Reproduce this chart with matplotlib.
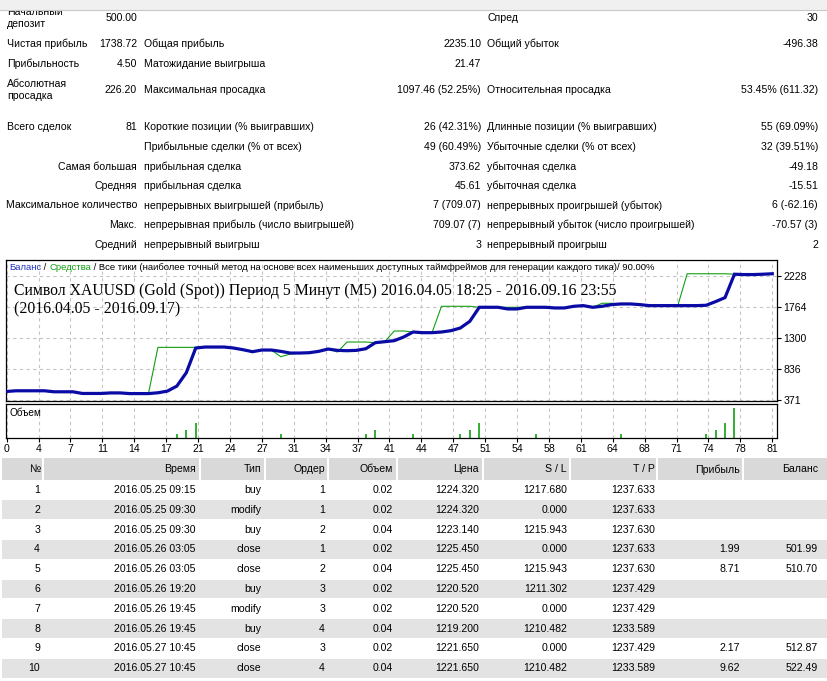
import numpy as np
import matplotlib
matplotlib.use("Agg")
import matplotlib.pyplot as plt
from matplotlib.patches import Rectangle

plt.rcParams['font.family'] = ['Liberation Sans', 'DejaVu Sans']

# --- статистика отчёта
col1_labels = ["Начальный\nдепозит", "Чистая прибыль", "Прибыльность", "Абсолютная\nпросадка",
               "Всего сделок", "", "Самая большая", "Средняя", "Максимальное количество",
               "Макс.", "Средний"]
col1_values = ["500.00", "1738.72", "4.50", "226.20", "81", "", "", "", "", "", ""]
col2_labels = ["", "Общая прибыль", "Матожидание выигрыша", "Максимальная просадка",
               "Короткие позиции (% выигравших)", "Прибыльные сделки (% от всех)",
               "прибыльная сделка", "прибыльная сделка", "непрерывных выигрышей (прибыль)",
               "непрерывная прибыль (число выигрышей)", "непрерывный выигрыш"]
col2_values = ["", "2235.10", "21.47", "1097.46 (52.25%)", "26 (42.31%)", "49 (60.49%)",
               "373.62", "45.61", "7 (709.07)", "709.07 (7)", "3"]
col3_labels = ["Спред", "Общий убыток", "", "Относительная просадка",
               "Длинные позиции (% выигравших)", "Убыточные сделки (% от всех)",
               "убыточная сделка", "убыточная сделка", "непрерывных проигрышей (убыток)",
               "непрерывный убыток (число проигрышей)", "непрерывный проигрыш"]
col3_values = ["30", "-496.38", "", "53.45% (611.32)", "55 (69.09%)", "32 (39.51%)",
               "-49.18", "-15.51", "6 (-62.16)", "-70.57 (3)", "2"]

# --- график баланса / средств (по номеру сделки)
balance = [500, 510, 510, 510, 510, 495, 495, 495, 470, 470, 470, 478, 478, 468, 468, 468,
           480, 505, 580, 780, 1150, 1165, 1165, 1165, 1150, 1125, 1095, 1120, 1120, 1100,
           1075, 1075, 1080, 1100, 1135, 1115, 1110, 1115, 1140, 1230, 1245, 1260, 1315,
           1390, 1380, 1380, 1390, 1410, 1450, 1550, 1760, 1760, 1760, 1735, 1735, 1760,
           1760, 1760, 1750, 1750, 1775, 1785, 1760, 1775, 1800, 1810, 1810, 1800, 1785,
           1785, 1785, 1785, 1785, 1785, 1790, 1845, 1905, 2255, 2250, 2250, 2255, 2262]
equity = [500, 510, 510, 510, 510, 495, 495, 495, 470, 470, 470, 478, 478, 468, 468, 468,
          1160, 1160, 1160, 1160, 1160, 1165, 1165, 1165, 1150, 1125, 1095, 1120, 1120, 1020,
          1060, 1075, 1080, 1100, 1135, 1090, 1240, 1240, 1240, 1230, 1245, 1405, 1405,
          1390, 1380, 1380, 1775, 1775, 1775, 1775, 1760, 1760, 1760, 1760, 1760, 1760,
          1760, 1760, 1750, 1750, 1775, 1785, 1760, 1820, 1820, 1810, 1810, 1800, 1785,
          1785, 1785, 1785, 2262, 2262, 2262, 2262, 2262, 2255, 2250, 2250, 2255, 2262]
vol_idx = [18, 19, 20, 29, 38, 39, 43, 48, 49, 50, 56, 65, 74, 75, 76, 77]
vol_lots = [0.02, 0.04, 0.08, 0.02, 0.02, 0.04, 0.02, 0.02, 0.04, 0.08, 0.02, 0.02, 0.02, 0.04, 0.08, 0.16]
xtick_labels = ["0", "4", "7", "11", "14", "17", "21", "24", "27", "31", "34", "37", "41",
                "44", "47", "51", "54", "58", "61", "64", "68", "71", "74", "78", "81"]
ytick_vals = [371, 836, 1300, 1764, 2228]
title = ("Символ XAUUSD (Gold (Spot)) Период 5 Минут (M5) 2016.04.05 18:25 - 2016.09.16 23:55\n"
         "(2016.04.05 - 2016.09.17)")

# --- таблица сделок
headers = ["№", "Время", "Тип", "Ордер", "Объем", "Цена", "S / L", "T / P", "Прибыль", "Баланс"]
nums = [1, 2, 3, 4, 5, 6, 7, 8, 9, 10]
times = ["2016.05.25 09:15", "2016.05.25 09:30", "2016.05.25 09:30", "2016.05.26 03:05",
         "2016.05.26 03:05", "2016.05.26 19:20", "2016.05.26 19:45", "2016.05.26 19:45",
         "2016.05.27 10:45", "2016.05.27 10:45"]
types = ["buy", "modify", "buy", "close", "close", "buy", "modify", "buy", "close", "close"]
orders = [1, 1, 2, 1, 2, 3, 3, 4, 3, 4]
volumes = [0.02, 0.02, 0.04, 0.02, 0.04, 0.02, 0.02, 0.04, 0.02, 0.04]
prices = [1224.320, 1224.320, 1223.140, 1225.450, 1225.450, 1220.520, 1220.520, 1219.200,
          1221.650, 1221.650]
sls = [1217.680, 0.0, 1215.943, 0.0, 1215.943, 1211.302, 0.0, 1210.482, 0.0, 1210.482]
tps = [1237.633, 1237.633, 1237.630, 1237.633, 1237.630, 1237.429, 1237.429, 1233.589,
       1237.429, 1233.589]
profits = [None, None, None, 1.99, 8.71, None, None, None, 2.17, 9.62]
balances = [None, None, None, 501.99, 510.70, None, None, None, 512.87, 522.49]

W, H = 827, 681
fig = plt.figure(figsize=(W / 100, H / 100), dpi=100)
fig.patch.set_facecolor('white')

bg = fig.add_axes([0, 0, 1, 1])
bg.set_xlim(0, W)
bg.set_ylim(H, 0)
bg.axis('off')

fs = 7.6
# полоска сверху
bg.add_patch(Rectangle((0, 0), W, 9.5, fc='#F0F0F0', ec='none', zorder=5))
bg.plot([0, W], [9.5, 9.5], color='#C8C8C8', lw=0.8, zorder=6)

stat_y = [18, 44, 64, 90, 127.5, 147, 166.5, 186, 205.5, 225, 244.5]
for i, y in enumerate(stat_y):
    if i >= 6:
        bg.text(137, y, col1_labels[i], ha='right', va='center', fontsize=fs)
    else:
        bg.text(7, y, col1_labels[i], ha='left', va='center', fontsize=fs, linespacing=1.35)
    bg.text(137, y, col1_values[i], ha='right', va='center', fontsize=fs)
    bg.text(144, y, col2_labels[i], ha='left', va='center', fontsize=fs)
    bg.text(481, y, col2_values[i], ha='right', va='center', fontsize=fs)
    bg.text(487, y, col3_labels[i], ha='left', va='center', fontsize=fs)
    bg.text(818, y, col3_values[i], ha='right', va='center', fontsize=fs)

# --- основной график
x0, x1 = 6, 777
ax = fig.add_axes([x0 / W, 1 - 401 / H, (x1 - x0) / W, (401 - 260) / H])
vax = fig.add_axes([x0 / W, 1 - 438 / H, (x1 - x0) / W, (438 - 404) / H])
ax.patch.set_facecolor('none')
vax.patch.set_facecolor('none')

n = np.arange(len(balance))
xt = np.arange(len(xtick_labels)) * 81 / 24
xlim = (-0.074, 81.5)

ax.plot(n, equity, color='#10A010', lw=0.8, zorder=3)
ax.plot(n, balance, color='#0A0AA5', lw=2.3, zorder=4, solid_joinstyle='miter')
ax.set_xlim(*xlim)
ax.set_ylim(357, 2468)
ax.set_xticks(xt)
ax.set_yticks(ytick_vals)
ax.tick_params(axis='x', length=0, labelbottom=False)
ax.yaxis.tick_right()
ax.tick_params(axis='y', length=3, width=0.8, pad=1.5, labelsize=7.6, direction='out')
ax.grid(True, color='#C4C4C4', lw=0.8, ls=(0, (3, 3)))
for s in ax.spines.values():
    s.set_linewidth(0.9)

ax.text(14, 300.5, title, family=['Liberation Serif', 'DejaVu Serif'], fontsize=11.3,
        ha='left', va='center', linespacing=1.2, transform=bg.transData, zorder=5)

# заголовок графика из цветных частей
parts = [("Баланс", '#2035C0'), (" / ", 'black'), ("Средства", '#12A012'),
         (" / Все тики (наиболее точный метод на основе всех наименьших доступных таймфреймов "
          "для генерации каждого тика)/ 90.00%", 'black')]
prev = ax.text(9, 268, parts[0][0], color=parts[0][1], fontsize=6.8, ha='left', va='center',
               transform=bg.transData, zorder=5)
for txt, col in parts[1:]:
    prev = ax.annotate(txt, xy=(1, 0), xycoords=prev, color=col, fontsize=6.8,
                       ha='left', va='bottom', zorder=5)

vax.vlines(vol_idx, 0, vol_lots, color='#10A010', lw=1.2)
vax.set_xlim(*xlim)
vax.set_ylim(0, 0.181)
vax.set_xticks(xt)
vax.set_xticklabels(xtick_labels)
vax.set_yticks([])
vax.tick_params(axis='x', length=3, width=0.8, pad=1.5, labelsize=7.6)
vax.grid(True, axis='x', color='#C4C4C4', lw=0.8, ls=(0, (3, 3)))
for s in vax.spines.values():
    s.set_linewidth(0.9)
vax.text(10, 413, "Объем", transform=bg.transData, ha='left', va='center', fontsize=7.2)

# --- таблица
sep_x = [43, 200, 265, 328, 397, 483, 570, 657, 743]
right_x = [40, 196, 261, 325, 393, 479, 567, 655, 740, 818]
bg.add_patch(Rectangle((2, 458), W - 2, 22, fc='#D9D9D9', ec='none'))
for sx in sep_x:
    bg.plot([sx, sx], [458, 480], color='white', lw=1.5)
for j, h in enumerate(headers):
    bg.text(right_x[j], 469.5, h, ha='right', va='center', fontsize=fs)

row_h = 19.8
for k in range(len(nums)):
    y = 490 + k * row_h
    if k % 2 == 1:
        bg.add_patch(Rectangle((2, y - 9.4), W - 2, 18.8, fc='#E3E3E3', ec='none'))
    cells = [str(nums[k]), times[k], types[k], str(orders[k]), f"{volumes[k]:.2f}",
             f"{prices[k]:.3f}", f"{sls[k]:.3f}", f"{tps[k]:.3f}",
             "" if profits[k] is None else f"{profits[k]:.2f}",
             "" if balances[k] is None else f"{balances[k]:.2f}"]
    for j, c in enumerate(cells):
        bg.text(right_x[j], y, c, ha='right', va='center', fontsize=fs)

fig.savefig("out.png", dpi=100, facecolor='white')
